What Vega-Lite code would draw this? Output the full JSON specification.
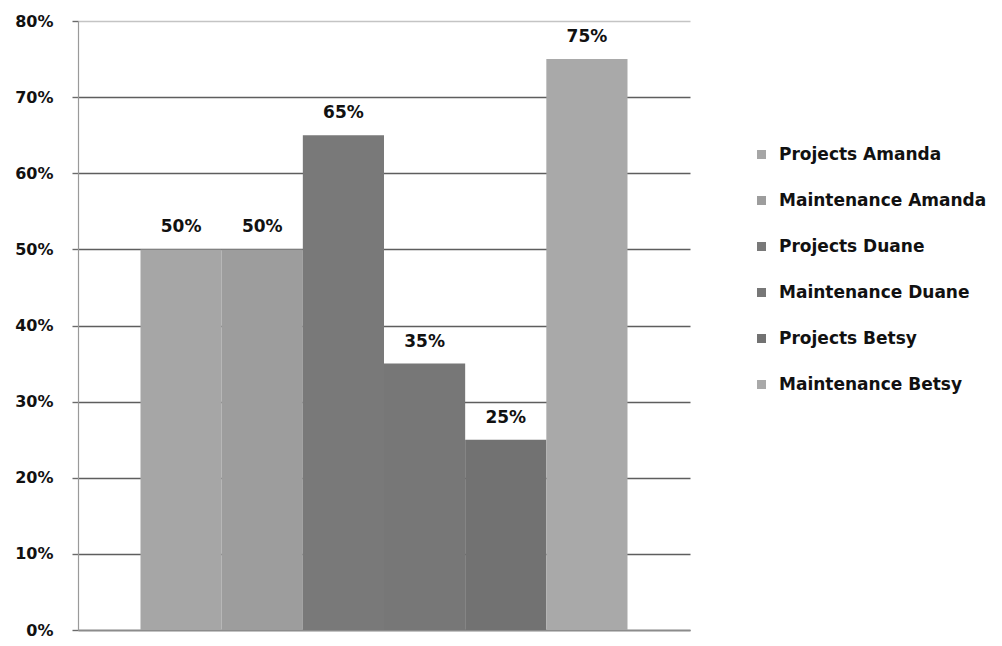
{
  "$schema": "https://vega.github.io/schema/vega-lite/v6.json",
  "width": 612,
  "height": 609,
  "autosize": {"type": "none"},
  "padding": {"left": 78, "top": 21, "right": 312, "bottom": 16},
  "background": "white",
  "config": {
    "view": {"stroke": null},
    "font": "DejaVu Sans"
  },
  "data": {
    "values": [
      {"series": "Projects Amanda", "value": 0.50},
      {"series": "Maintenance Amanda", "value": 0.50},
      {"series": "Projects Duane", "value": 0.65},
      {"series": "Maintenance Duane", "value": 0.35},
      {"series": "Projects Betsy", "value": 0.25},
      {"series": "Maintenance Betsy", "value": 0.75}
    ]
  },
  "encoding": {
    "x": {
      "field": "series",
      "type": "nominal",
      "sort": ["Projects Amanda", "Maintenance Amanda", "Projects Duane", "Maintenance Duane", "Projects Betsy", "Maintenance Betsy"],
      "scale": {"paddingInner": 0, "paddingOuter": 0.77},
      "axis": {
        "labels": false,
        "ticks": false,
        "title": null,
        "domainColor": "#8c8c8c",
        "domainWidth": 1.5
      }
    },
    "y": {
      "field": "value",
      "type": "quantitative",
      "scale": {"domain": [0, 0.8], "nice": false},
      "axis": {
        "values": [0, 0.1, 0.2, 0.3, 0.4, 0.5, 0.6, 0.7, 0.8],
        "format": ".0%",
        "title": null,
        "grid": true,
        "gridColor": {"condition": {"test": "datum.value === 0.8", "value": "#c4c4c4"}, "value": "#5e5e5e"},
        "gridWidth": 1.4,
        "domainColor": "#9a9a9a",
        "domainWidth": 1.2,
        "tickColor": "#6a6a6a",
        "tickSize": 6,
        "tickWidth": 1.4,
        "labelPadding": 19,
        "labelFont": "DejaVu Sans",
        "labelFontSize": 16,
        "labelFontWeight": "bold",
        "labelColor": "#111111"
      }
    }
  },
  "layer": [
    {
      "mark": {"type": "bar"},
      "encoding": {
        "color": {
          "field": "series",
          "type": "nominal",
          "sort": ["Projects Amanda", "Maintenance Amanda", "Projects Duane", "Maintenance Duane", "Projects Betsy", "Maintenance Betsy"],
          "scale": {"range": ["#a6a6a6", "#9d9d9d", "#797979", "#777777", "#727272", "#a9a9a9"]},
          "legend": {
            "title": null,
            "orient": "none",
            "legendX": 675,
            "legendY": 125,
            "symbolType": "square",
            "symbolSize": 81,
            "symbolStrokeWidth": 0,
            "labelOffset": 9,
            "rowPadding": 28,
            "labelFont": "DejaVu Sans",
            "labelFontSize": 17,
            "labelFontWeight": "bold",
            "labelColor": "#111111",
            "labelLimit": 400
          }
        }
      }
    },
    {
      "mark": {
        "type": "text",
        "baseline": "alphabetic",
        "dy": -17,
        "font": "DejaVu Sans",
        "fontSize": 17,
        "fontWeight": "bold",
        "color": "#111111"
      },
      "encoding": {
        "text": {"field": "value", "type": "quantitative", "format": ".0%"}
      }
    }
  ]
}
